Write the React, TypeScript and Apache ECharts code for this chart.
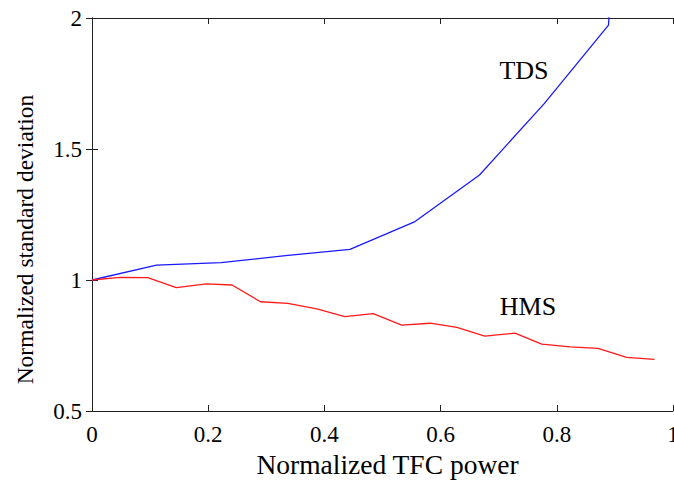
import React, { useEffect, useRef } from "react";
import * as echarts from "echarts";

const tdsX = [0, 0.111, 0.222, 0.333, 0.444, 0.556, 0.667, 0.778, 0.889, 1.0];
const tdsY = [1.0, 1.057, 1.066, 1.093, 1.117, 1.223, 1.401, 1.672, 1.973, 6.0];
const hmsX = [0, 0.048, 0.096, 0.145, 0.197, 0.241, 0.29, 0.337, 0.387, 0.435, 0.484, 0.533, 0.582, 0.628, 0.676, 0.728, 0.774, 0.823, 0.871, 0.92, 0.968];
const hmsY = [1.0, 1.01, 1.009, 0.971, 0.985, 0.981, 0.917, 0.911, 0.89, 0.86, 0.872, 0.828, 0.835, 0.819, 0.786, 0.797, 0.755, 0.745, 0.739, 0.705, 0.697];
const xTitle = "Normalized TFC power";
const yTitle = "Normalized standard deviation";
const seriesNames = ["TDS", "HMS"];

const FONT = "Liberation Serif";

export default function App() {
  const ref = useRef<HTMLDivElement>(null);
  useEffect(() => {
    document.body.style.margin = "0";
    const chart = echarts.init(ref.current!, null, { renderer: "svg" });
    const axisLine = { show: true, lineStyle: { color: "#222", width: 1 } };
    const tickIn = { show: true, inside: true, length: 6, lineStyle: { color: "#222", width: 1 } };
    const lbl = { fontFamily: FONT, fontSize: 23, color: "#000" };
    chart.setOption({
      animation: false,
      backgroundColor: "#fff",
      grid: { left: 92, top: 18, right: 1, bottom: 70, containLabel: false, outerBoundsMode: "none" },
      xAxis: [
        {
          type: "value", min: 0, max: 1, interval: 0.2, position: "bottom",
          axisLine, axisTick: tickIn, splitLine: { show: false },
          axisLabel: { ...lbl, margin: 12 },
          name: xTitle, nameLocation: "middle", nameGap: 39,
          nameTextStyle: { fontFamily: FONT, fontSize: 27.5, color: "#000", padding: [0, 0, 0, 10] },
        },
        {
          type: "value", min: 0, max: 1, interval: 0.2, position: "top",
          axisLine, axisTick: tickIn, splitLine: { show: false }, axisLabel: { show: false },
        },
      ],
      yAxis: [
        {
          type: "value", min: 0.5, max: 2, interval: 0.5, position: "left",
          axisLine, axisTick: tickIn, splitLine: { show: false },
          axisLabel: { ...lbl, margin: 10 },
          name: yTitle, nameLocation: "middle", nameGap: 55,
          nameTextStyle: { fontFamily: FONT, fontSize: 23.5, color: "#000", padding: [0, 50, 0, 0] },
        },
        {
          type: "value", min: 0.5, max: 2, interval: 0.5, position: "right",
          axisLine, axisTick: tickIn, splitLine: { show: false }, axisLabel: { show: false },
        },
      ],
      series: [
        {
          name: seriesNames[0], type: "line", xAxisIndex: 0, yAxisIndex: 0,
          data: tdsX.map((x, i) => [x, tdsY[i]]),
          showSymbol: false, clip: true,
          lineStyle: { color: "#1a1aff", width: 1.3 },
        },
        {
          name: seriesNames[1], type: "line", xAxisIndex: 0, yAxisIndex: 0,
          data: hmsX.map((x, i) => [x, hmsY[i]]),
          showSymbol: false, clip: true,
          lineStyle: { color: "#ff1a1a", width: 1.3 },
        },
      ],
      graphic: [
        { type: "text", x: 524, y: 70, style: { text: seriesNames[0], font: `26px "${FONT}"`, fill: "#000", textAlign: "center", textVerticalAlign: "middle" } },
        { type: "text", x: 528, y: 306, style: { text: seriesNames[1], font: `26px "${FONT}"`, fill: "#000", textAlign: "center", textVerticalAlign: "middle" } },
      ],
    });
    return () => chart.dispose();
  }, []);
  return <div ref={ref} style={{ width: 674, height: 481 }} />;
}
